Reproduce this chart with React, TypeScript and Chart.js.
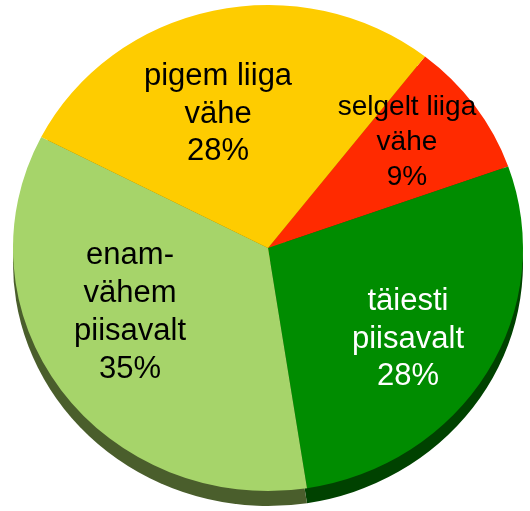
import React, { useEffect, useRef } from "react";
import { Chart, registerables } from "chart.js";

Chart.register(...registerables);

const categories = ["selgelt liiga vähe", "täiesti piisavalt", "enam-vähem piisavalt", "pigem liiga vähe"];
const values = [9, 28, 35, 28];
const labelLines = [["selgelt liiga", "vähe"], ["täiesti", "piisavalt"], ["enam-", "vähem", "piisavalt"], ["pigem liiga", "vähe"]];

const topColors = ["#FF2A00", "#008C00", "#A6D46A", "#FECC00"];
const sideColors = ["#8A1700", "#004200", "#4A5E2C", "#8A6E00"];
const textColors = ["#000000", "#FFFFFF", "#000000", "#000000"];
const fontSizes = [28, 31, 31, 31];
const lineHeights = [35, 37.5, 38, 37.5];
// label block centre, as a fraction of the horizontal / vertical radius from the pie centre
const labelPos = [
  [0.545, -0.444],
  [0.549, 0.366],
  [-0.541, 0.255],
  [-0.196, -0.56],
];

const TARGET_CY = 248;
const RY = 243;
const DEPTH = 15;

const pseudo3d = {
  id: "pseudo3d",
  beforeDatasetsDraw(chart: any) {
    const ctx = chart.ctx;
    const meta = chart.getDatasetMeta(0);
    const a0 = meta.data[0];
    const cx = a0.x, cy = a0.y, R = a0.outerRadius;
    const s = RY / R;
    ctx.save();
    ctx.translate(0, TARGET_CY);
    ctx.scale(1, s);
    ctx.translate(0, -cy);
    const d = DEPTH / s;
    meta.data.forEach((arc: any, i: number) => {
      ctx.beginPath();
      ctx.moveTo(cx, cy + d);
      ctx.arc(cx, cy + d, R, arc.startAngle, arc.endAngle);
      ctx.closePath();
      ctx.fillStyle = sideColors[i];
      ctx.fill();
    });
  },
  afterDatasetsDraw(chart: any) {
    const ctx = chart.ctx;
    ctx.restore();
    const meta = chart.getDatasetMeta(0);
    const a0 = meta.data[0];
    const cx = a0.x, R = a0.outerRadius;
    ctx.save();
    ctx.textAlign = "center";
    ctx.textBaseline = "alphabetic";
    meta.data.forEach((_arc: any, i: number) => {
      const lines = [...labelLines[i], `${values[i]}%`];
      const size = fontSizes[i];
      const lh = lineHeights[i];
      const x = cx + labelPos[i][0] * R;
      const y = TARGET_CY + labelPos[i][1] * RY;
      ctx.font = `${size}px "Liberation Sans", Arial, sans-serif`;
      ctx.fillStyle = textColors[i];
      const first = y - ((lines.length - 1) * lh) / 2 + size * 0.35;
      lines.forEach((t, k) => ctx.fillText(t, x, first + k * lh));
    });
    ctx.restore();
  },
};

export default function App() {
  const ref = useRef<HTMLCanvasElement>(null);
  useEffect(() => {
    if (!ref.current) return;
    const chart = new Chart(ref.current, {
      type: "pie",
      data: {
        labels: categories,
        datasets: [
          {
            data: values,
            backgroundColor: topColors,
            borderWidth: 0,
            clip: false,
          } as any,
        ],
      },
      options: {
        responsive: false,
        animation: false,
        rotation: 38,
        layout: { padding: { left: 13, right: 7, top: 0, bottom: 1 } },
        plugins: {
          legend: { display: false },
          tooltip: { enabled: false },
        },
      },
      plugins: [pseudo3d],
    });
    return () => chart.destroy();
  }, []);
  return (
    <div style={{ position: "fixed", left: 0, top: 0, width: 530, height: 511, background: "#fff" }}>
      <canvas ref={ref} width={530} height={511} style={{ width: 530, height: 511, display: "block" }} />
    </div>
  );
}
